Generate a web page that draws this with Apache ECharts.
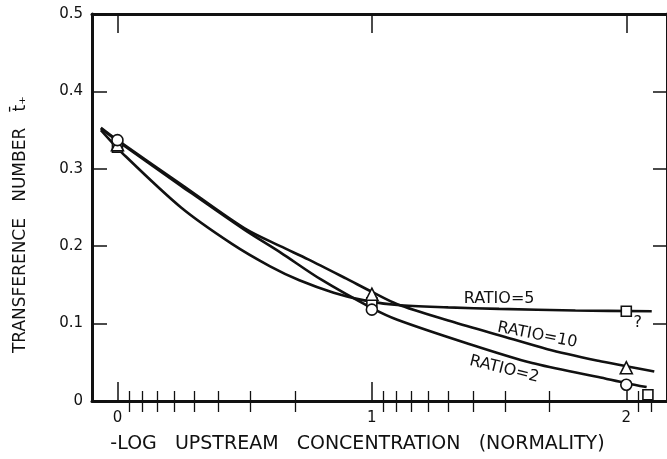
<!DOCTYPE html>
<html>
<head>
<meta charset="utf-8">
<script src="https://cdn.jsdelivr.net/npm/echarts@6/dist/echarts.min.js"></script>
<style>
  html, body { margin: 0; padding: 0; background: #fff; }
  #chart { width: 667px; height: 459px; }
</style>
</head>
<body>
<div id="chart"></div>
<script>
// curves: [ -log C , t+ ]
const ratio2Curve = [[-0.065, 0.352], [0, 0.336], [0.25, 0.278], [0.5, 0.221], [0.64, 0.192], [0.8, 0.157], [1, 0.12], [1.1, 0.105], [1.37, 0.075], [1.63, 0.049], [1.89, 0.031], [2, 0.023], [2.08, 0.018]];
const ratio10Curve = [[-0.065, 0.353], [0, 0.337], [0.25, 0.28], [0.5, 0.223], [0.64, 0.2], [0.75, 0.183], [0.9, 0.158], [1, 0.141], [1.1, 0.125], [1.3, 0.104], [1.5, 0.085], [1.69, 0.067], [1.89, 0.052], [2, 0.045], [2.11, 0.038]];
const ratio5Curve = [[-0.065, 0.35], [0.02, 0.32], [0.25, 0.25], [0.45, 0.203], [0.6, 0.174], [0.715, 0.156], [0.85, 0.14], [0.97, 0.13], [1.1, 0.124], [1.3, 0.121], [1.5, 0.119], [1.8, 0.117], [2.1, 0.116]];

// measured points
const ratio2Points = [[0, 0.337], [1, 0.118], [2, 0.021]];
const ratio10Points = [[0, 0.331], [1, 0.138], [2, 0.043]];
const ratio5Points = [[0, 0.328], [1, 0.127], [2, 0.116]];
const extraPoints = [[2.085, 0.008]];

// in-plot texts: [x, y, text, rotation]
const curveLabels = [
  [1.5, 0.132, 'RATIO=5', 0],
  [1.65, 0.085, 'RATIO=10', -11],
  [1.52, 0.041, 'RATIO=2', -14],
  [2.045, 0.101, '?', 0]
];

// axis ticks
const xMajor = [0, 1, 2];
const xMinorConc = [0.9, 0.8, 0.7, 0.6, 0.5, 0.4, 0.3, 0.2, 0.09, 0.08, 0.07, 0.06, 0.05, 0.04, 0.03, 0.02, 0.009, 0.008];
const xMinor = xMinorConc.map(c => -Math.log10(c));

const font = 'DejaVu Sans';
const ink = '#111';

const chart = echarts.init(document.getElementById('chart'), null, { renderer: 'canvas' });

const baseX = {
  type: 'value',
  min: -0.1,
  max: 2.16,
  splitLine: { show: false },
  axisLabel: { show: false },
  axisLine: { show: false }
};

const xAxes = [
  Object.assign({}, baseX, {
    position: 'bottom',
    axisLine: { show: true, onZero: false, lineStyle: { color: ink, width: 3 } },
    axisTick: { show: true, inside: true, length: 19, customValues: xMajor, lineStyle: { color: ink, width: 1.5 } },
    axisLabel: { show: true, customValues: xMajor, color: ink, fontFamily: font, fontSize: 15, margin: 10 },
    name: '-LOG   UPSTREAM   CONCENTRATION   (NORMALITY)',
    nameLocation: 'middle',
    nameGap: 34,
    nameTextStyle: { color: ink, fontFamily: font, fontSize: 19, padding: [0, 44, 0, 0] }
  }),
  Object.assign({}, baseX, {
    position: 'bottom',
    axisTick: { show: true, inside: true, length: 10, customValues: xMinor, lineStyle: { color: ink, width: 1.3 } }
  }),
  Object.assign({}, baseX, {
    position: 'top',
    axisLine: { show: true, onZero: false, lineStyle: { color: ink, width: 3 } },
    axisTick: { show: true, inside: true, length: 19, customValues: xMajor, lineStyle: { color: ink, width: 1.5 } }
  }),
  Object.assign({}, baseX, {
    position: 'top',
    axisTick: { show: true, inside: true, length: 11, customValues: xMinor, lineStyle: { color: ink, width: 1.3 } }
  })
];

const yAxes = [
  {
    type: 'value',
    position: 'left',
    min: 0,
    max: 0.5,
    interval: 0.1,
    splitLine: { show: false },
    axisLine: { show: true, onZero: false, lineStyle: { color: ink, width: 3 } },
    axisTick: { show: true, inside: true, length: 15, lineStyle: { color: ink, width: 1.5 } },
    axisLabel: {
      color: ink, fontFamily: font, fontSize: 15, margin: 9,
      formatter: v => (v === 0 ? '0' : v.toFixed(1))
    },
    name: 'TRANSFERENCE   NUMBER   t̄₊',
    nameLocation: 'middle',
    nameGap: 63,
    nameTextStyle: { color: ink, fontFamily: font, fontSize: 17, padding: [0, 34, 0, 0] }
  },
  {
    type: 'value',
    position: 'right',
    min: 0,
    max: 0.5,
    interval: 0.1,
    splitLine: { show: false },
    axisLine: { show: true, onZero: false, lineStyle: { color: ink, width: 3 } },
    axisTick: { show: true, inside: true, length: 14, lineStyle: { color: ink, width: 1.5 } },
    axisLabel: { show: false }
  }
];

function curve(data) {
  return {
    type: 'line',
    data: data,
    smooth: 0.3,
    showSymbol: false,
    symbol: 'none',
    lineStyle: { color: ink, width: 2.6 },
    z: 2,
    silent: true
  };
}

function marks(data, symbol, size) {
  return {
    type: 'scatter',
    data: data,
    symbol: symbol,
    symbolSize: size,
    itemStyle: { color: '#fff', borderColor: ink, borderWidth: 1.6, opacity: 1 },
    z: 5,
    silent: true
  };
}

const option = {
  animation: false,
  backgroundColor: '#fff',
  grid: { left: 92, right: -3, top: 14, bottom: 55, containLabel: false },
  xAxis: xAxes,
  yAxis: yAxes,
  series: [
    curve(ratio2Curve),
    curve(ratio10Curve),
    curve(ratio5Curve),
    marks(ratio5Points, 'rect', 10),
    marks(ratio10Points, 'triangle', 12),
    marks(ratio2Points, 'circle', 11),
    marks(extraPoints, 'rect', 10),
    {
      type: 'scatter',
      symbolSize: 0,
      silent: true,
      z: 6,
      itemStyle: { opacity: 1 },
      data: curveLabels.map(d => ({
        value: [d[0], d[1]],
        label: {
          show: true,
          position: 'inside',
          formatter: d[2],
          rotate: d[3],
          color: ink,
          fontFamily: font,
          fontSize: 16
        }
      }))
    }
  ]
};

chart.setOption(option);
</script>
</body>
</html>
